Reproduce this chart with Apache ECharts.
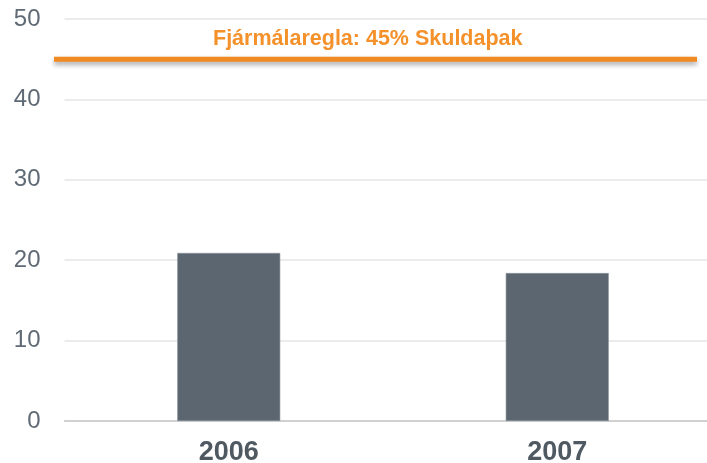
<!DOCTYPE html>
<html>
<head>
<meta charset="utf-8">
<script src="https://cdn.jsdelivr.net/npm/echarts@6/dist/echarts.min.js"></script>
<style>html,body{margin:0;padding:0;background:#fff}#c{width:707px;height:463px}</style>
</head>
<body>
<div id="c"></div>
<script>
const categories = ['2006', '2007'];
const debtValues = [20.9, 18.4];
const ruleValue = 45;
const ruleLabel = 'Fjármálaregla: 45% Skuldaþak';
const yTicks = [0, 10, 20, 30, 40, 50];

const chart = echarts.init(document.getElementById('c'), null, {renderer: 'canvas'});
chart.setOption({
  animation: false,
  backgroundColor: '#ffffff',
  title: {
    text: ruleLabel,
    left: 213,
    top: 28,
    padding: 0,
    textStyle: {color: '#f5912a', fontSize: 21.5, fontWeight: 'bold', fontFamily: 'Liberation Sans, Arial, sans-serif'}
  },
  grid: [
    {left: 64.5, width: 657, top: 19, bottom: 42, outerBoundsMode: 'none', containLabel: false},
    {left: 54, right: 10, top: 19, bottom: 42, outerBoundsMode: 'none', containLabel: false}
  ],
  xAxis: [
    {
      type: 'category', data: categories, gridIndex: 0,
      axisLine: {show: true, lineStyle: {color: '#c8c8c8', width: 1.5}},
      axisTick: {show: false},
      axisLabel: {color: '#4f5962', fontSize: 27, fontWeight: 'bold', margin: 18, fontFamily: 'Liberation Sans, Arial, sans-serif'}
    },
    {type: 'value', gridIndex: 1, min: 0, max: 1, show: false}
  ],
  yAxis: [
    {
      type: 'value', gridIndex: 0, min: yTicks[0], max: yTicks[yTicks.length - 1], interval: 10,
      axisLine: {show: false}, axisTick: {show: false},
      splitLine: {lineStyle: {color: '#e5e5e5', width: 1.5}},
      axisLabel: {color: '#5f6a75', fontSize: 24, margin: 24, fontFamily: 'Liberation Sans, Arial, sans-serif'}
    },
    {type: 'value', gridIndex: 1, min: yTicks[0], max: yTicks[yTicks.length - 1], show: false}
  ],
  series: [
    {
      type: 'bar', xAxisIndex: 0, yAxisIndex: 0, data: debtValues, barWidth: 103,
      itemStyle: {color: '#5c6670', borderColor: '#8a939b', borderWidth: 0.6}
    },
    {
      type: 'line', xAxisIndex: 1, yAxisIndex: 1, symbol: 'none',
      data: [[0, ruleValue], [1, ruleValue]],
      lineStyle: {color: '#f28a22', width: 5, shadowColor: 'rgba(0,0,0,0.35)', shadowBlur: 5, shadowOffsetY: 3},
      z: 5
    }
  ]
});
</script>
</body>
</html>
